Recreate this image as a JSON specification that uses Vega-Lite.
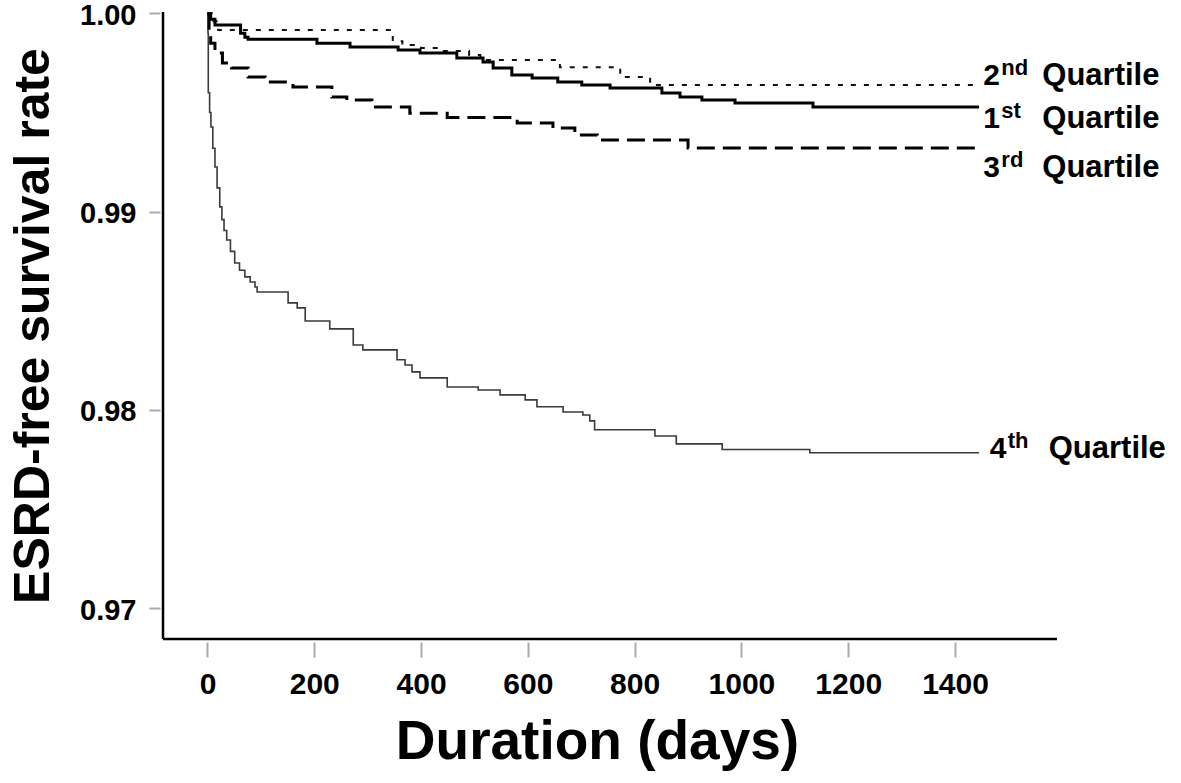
{
  "$schema": "https://vega.github.io/schema/vega-lite/v6.json",
  "width": 894,
  "height": 627,
  "autosize": {"type": "none"},
  "padding": {"left": 163, "top": 12, "right": 124, "bottom": 144},
  "background": "white",
  "config": {
    "view": {"stroke": null},
    "font": "Liberation Sans",
    "axisY": {"domain": false, "grid": false, "offset": 3, "tickSize": 11, "tickColor": "#aaaaaa", "tickWidth": 2, "labelFont": "Liberation Sans", "labelFontSize": 29, "labelFontWeight": "bold", "labelColor": "#000000", "labelPadding": 13, "labelOffset": 2, "titleFont": "Liberation Sans", "titleFontSize": 50, "titleFontWeight": "bold", "titleColor": "#000000", "titlePadding": 21},
    "axisX": {"domain": false, "grid": false, "offset": 3, "tickSize": 15, "tickColor": "#aaaaaa", "tickWidth": 2, "labelFont": "Liberation Sans", "labelFontSize": 30, "labelFontWeight": "bold", "labelColor": "#000000", "labelPadding": 12, "titleFont": "Liberation Sans", "titleFontSize": 55, "titleFontWeight": "bold", "titleColor": "#000000", "titlePadding": 16, "titleX": 434}
  },
  "datasets": {
    "km": [
      {"quartile": "1st", "days": 0, "rate": 1.0},
      {"quartile": "1st", "days": 6, "rate": 0.9997},
      {"quartile": "1st", "days": 14, "rate": 0.99941},
      {"quartile": "1st", "days": 62, "rate": 0.9990},
      {"quartile": "1st", "days": 70, "rate": 0.9988},
      {"quartile": "1st", "days": 76, "rate": 0.9987},
      {"quartile": "1st", "days": 205, "rate": 0.9985},
      {"quartile": "1st", "days": 267, "rate": 0.9983},
      {"quartile": "1st", "days": 357, "rate": 0.99815},
      {"quartile": "1st", "days": 398, "rate": 0.9980},
      {"quartile": "1st", "days": 467, "rate": 0.99775},
      {"quartile": "1st", "days": 516, "rate": 0.99755},
      {"quartile": "1st", "days": 535, "rate": 0.99724},
      {"quartile": "1st", "days": 570, "rate": 0.99689},
      {"quartile": "1st", "days": 608, "rate": 0.99674},
      {"quartile": "1st", "days": 656, "rate": 0.99654},
      {"quartile": "1st", "days": 701, "rate": 0.99639},
      {"quartile": "1st", "days": 754, "rate": 0.99624},
      {"quartile": "1st", "days": 851, "rate": 0.99598},
      {"quartile": "1st", "days": 885, "rate": 0.99578},
      {"quartile": "1st", "days": 926, "rate": 0.99563},
      {"quartile": "1st", "days": 988, "rate": 0.99548},
      {"quartile": "1st", "days": 1134, "rate": 0.99528},
      {"quartile": "1st", "days": 1445, "rate": 0.99528},
      {"quartile": "2nd", "days": 0, "rate": 1.0},
      {"quartile": "2nd", "days": 8, "rate": 0.9996},
      {"quartile": "2nd", "days": 20, "rate": 0.99916},
      {"quartile": "2nd", "days": 347, "rate": 0.9986},
      {"quartile": "2nd", "days": 365, "rate": 0.9984},
      {"quartile": "2nd", "days": 400, "rate": 0.99825},
      {"quartile": "2nd", "days": 440, "rate": 0.9981},
      {"quartile": "2nd", "days": 490, "rate": 0.9979},
      {"quartile": "2nd", "days": 511, "rate": 0.99765},
      {"quartile": "2nd", "days": 660, "rate": 0.99729},
      {"quartile": "2nd", "days": 773, "rate": 0.99679},
      {"quartile": "2nd", "days": 829, "rate": 0.99639},
      {"quartile": "2nd", "days": 1445, "rate": 0.99639},
      {"quartile": "3rd", "days": 0, "rate": 1.0},
      {"quartile": "3rd", "days": 3, "rate": 0.9990},
      {"quartile": "3rd", "days": 6, "rate": 0.9985},
      {"quartile": "3rd", "days": 14, "rate": 0.9980},
      {"quartile": "3rd", "days": 28, "rate": 0.9975},
      {"quartile": "3rd", "days": 45, "rate": 0.99724},
      {"quartile": "3rd", "days": 76, "rate": 0.99679},
      {"quartile": "3rd", "days": 108, "rate": 0.99654},
      {"quartile": "3rd", "days": 160, "rate": 0.99629},
      {"quartile": "3rd", "days": 233, "rate": 0.99578},
      {"quartile": "3rd", "days": 261, "rate": 0.99563},
      {"quartile": "3rd", "days": 308, "rate": 0.99528},
      {"quartile": "3rd", "days": 379, "rate": 0.99497},
      {"quartile": "3rd", "days": 449, "rate": 0.99475},
      {"quartile": "3rd", "days": 580, "rate": 0.99447},
      {"quartile": "3rd", "days": 647, "rate": 0.99422},
      {"quartile": "3rd", "days": 688, "rate": 0.99387},
      {"quartile": "3rd", "days": 730, "rate": 0.99362},
      {"quartile": "3rd", "days": 900, "rate": 0.99321},
      {"quartile": "3rd", "days": 1445, "rate": 0.99321},
      {"quartile": "4th", "days": 0, "rate": 1.0},
      {"quartile": "4th", "days": 1, "rate": 0.9990},
      {"quartile": "4th", "days": 1.5, "rate": 0.9960},
      {"quartile": "4th", "days": 4, "rate": 0.9950},
      {"quartile": "4th", "days": 6.5, "rate": 0.99427},
      {"quartile": "4th", "days": 10, "rate": 0.9932},
      {"quartile": "4th", "days": 14, "rate": 0.99225},
      {"quartile": "4th", "days": 18, "rate": 0.9912},
      {"quartile": "4th", "days": 23, "rate": 0.99024},
      {"quartile": "4th", "days": 27, "rate": 0.9896},
      {"quartile": "4th", "days": 31, "rate": 0.98905},
      {"quartile": "4th", "days": 36, "rate": 0.98857},
      {"quartile": "4th", "days": 43, "rate": 0.9880},
      {"quartile": "4th", "days": 51, "rate": 0.98741},
      {"quartile": "4th", "days": 60, "rate": 0.98705},
      {"quartile": "4th", "days": 70, "rate": 0.98671},
      {"quartile": "4th", "days": 80, "rate": 0.98645},
      {"quartile": "4th", "days": 89, "rate": 0.9862},
      {"quartile": "4th", "days": 93, "rate": 0.98595},
      {"quartile": "4th", "days": 151, "rate": 0.9854},
      {"quartile": "4th", "days": 168, "rate": 0.98515},
      {"quartile": "4th", "days": 183, "rate": 0.98449},
      {"quartile": "4th", "days": 229, "rate": 0.98409},
      {"quartile": "4th", "days": 273, "rate": 0.98328},
      {"quartile": "4th", "days": 291, "rate": 0.98303},
      {"quartile": "4th", "days": 355, "rate": 0.98253},
      {"quartile": "4th", "days": 370, "rate": 0.98227},
      {"quartile": "4th", "days": 383, "rate": 0.98192},
      {"quartile": "4th", "days": 398, "rate": 0.98162},
      {"quartile": "4th", "days": 449, "rate": 0.98116},
      {"quartile": "4th", "days": 507, "rate": 0.98101},
      {"quartile": "4th", "days": 548, "rate": 0.98076},
      {"quartile": "4th", "days": 595, "rate": 0.98051},
      {"quartile": "4th", "days": 617, "rate": 0.98016},
      {"quartile": "4th", "days": 666, "rate": 0.9799},
      {"quartile": "4th", "days": 703, "rate": 0.97975},
      {"quartile": "4th", "days": 716, "rate": 0.97945},
      {"quartile": "4th", "days": 725, "rate": 0.979},
      {"quartile": "4th", "days": 838, "rate": 0.97869},
      {"quartile": "4th", "days": 878, "rate": 0.97829},
      {"quartile": "4th", "days": 964, "rate": 0.97801},
      {"quartile": "4th", "days": 1128, "rate": 0.97784},
      {"quartile": "4th", "days": 1445, "rate": 0.97784}
    ],
    "labels": [
      {"quartile": "2nd", "num": "2", "sup": "nd", "word": "Quartile", "days": 1453, "rate": 0.99638},
      {"quartile": "1st", "num": "1", "sup": "st", "word": "Quartile", "days": 1453, "rate": 0.99422},
      {"quartile": "3rd", "num": "3", "sup": "rd", "word": "Quartile", "days": 1453, "rate": 0.99175},
      {"quartile": "4th", "num": "4", "sup": "th", "word": "Quartile", "days": 1465, "rate": 0.97759}
    ]
  },
  "layer": [
    {
      "data": {"name": "km"},
      "transform": [{"filter": "datum.quartile === '4th'"}],
      "mark": {"type": "line", "interpolate": "step-after", "color": "#3a3a3a", "strokeWidth": 1.6},
      "encoding": {
        "x": {"field": "days", "type": "quantitative", "title": "Duration (days)", "scale": {"domain": [-83.3, 1591], "nice": false, "zero": false}, "axis": {"values": [0, 200, 400, 600, 800, 1000, 1200, 1400], "format": "d"}},
        "y": {"field": "rate", "type": "quantitative", "title": "ESRD-free survival rate", "scale": {"domain": [0.96845, 1.00007], "nice": false, "zero": false}, "axis": {"values": [0.97, 0.98, 0.99, 1.0], "format": ".2f"}}
      }
    },
    {
      "data": {"name": "km"},
      "transform": [{"filter": "datum.quartile === '3rd'"}],
      "mark": {"type": "line", "interpolate": "step-after", "color": "#000000", "strokeWidth": 3, "strokeDash": [18, 8]},
      "encoding": {
        "x": {"field": "days", "type": "quantitative", "title": "Duration (days)"},
        "y": {"field": "rate", "type": "quantitative", "title": "ESRD-free survival rate"}
      }
    },
    {
      "data": {"name": "km"},
      "transform": [{"filter": "datum.quartile === '2nd'"}],
      "mark": {"type": "line", "interpolate": "step-after", "color": "#111111", "strokeWidth": 2, "strokeDash": [5, 8]},
      "encoding": {
        "x": {"field": "days", "type": "quantitative", "title": "Duration (days)"},
        "y": {"field": "rate", "type": "quantitative", "title": "ESRD-free survival rate"}
      }
    },
    {
      "data": {"name": "km"},
      "transform": [{"filter": "datum.quartile === '1st'"}],
      "mark": {"type": "line", "interpolate": "step-after", "color": "#000000", "strokeWidth": 3},
      "encoding": {
        "x": {"field": "days", "type": "quantitative", "title": "Duration (days)"},
        "y": {"field": "rate", "type": "quantitative", "title": "ESRD-free survival rate"}
      }
    },
    {
      "data": {"values": [{}]},
      "mark": {"type": "rule", "color": "#000000", "strokeWidth": 2.5},
      "encoding": {"x": {"datum": -83.3, "type": "quantitative"}}
    },
    {
      "data": {"values": [{}]},
      "mark": {"type": "rule", "color": "#000000", "strokeWidth": 2.5},
      "encoding": {"y": {"datum": 0.96845, "type": "quantitative"}}
    },
    {
      "data": {"name": "labels"},
      "mark": {"type": "text", "align": "left", "baseline": "alphabetic", "font": "Liberation Sans", "fontWeight": "bold", "fontSize": 30, "color": "#000000"},
      "encoding": {
        "x": {"field": "days", "type": "quantitative", "title": "Duration (days)"},
        "y": {"field": "rate", "type": "quantitative", "title": "ESRD-free survival rate"},
        "text": {"field": "num"}
      }
    },
    {
      "data": {"name": "labels"},
      "mark": {"type": "text", "align": "left", "baseline": "alphabetic", "font": "Liberation Sans", "fontWeight": "bold", "fontSize": 22, "color": "#000000", "dx": 18, "dy": -10},
      "encoding": {
        "x": {"field": "days", "type": "quantitative", "title": "Duration (days)"},
        "y": {"field": "rate", "type": "quantitative", "title": "ESRD-free survival rate"},
        "text": {"field": "sup"}
      }
    },
    {
      "data": {"name": "labels"},
      "mark": {"type": "text", "align": "left", "baseline": "alphabetic", "font": "Liberation Sans", "fontWeight": "bold", "fontSize": 31, "color": "#000000", "dx": 59},
      "encoding": {
        "x": {"field": "days", "type": "quantitative", "title": "Duration (days)"},
        "y": {"field": "rate", "type": "quantitative", "title": "ESRD-free survival rate"},
        "text": {"field": "word"}
      }
    }
  ]
}
